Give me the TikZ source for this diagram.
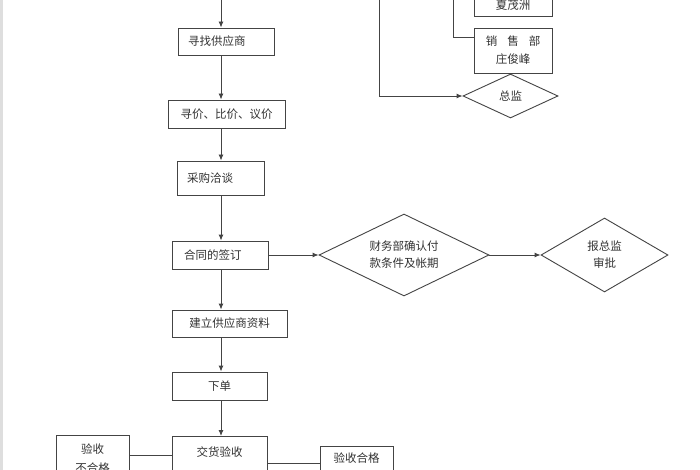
\documentclass[tikz,border=0pt]{standalone}
\usepackage{fontspec}
\newfontfamily\cjk{Noto Sans CJK SC}
\usetikzlibrary{shapes.geometric,arrows.meta}
\definecolor{lc}{HTML}{444444}
\definecolor{tx}{HTML}{333333}
\begin{document}
\begin{tikzpicture}[x=1pt,y=-1pt,
  every node/.style={font=\cjk\fontsize{11.5}{17}\selectfont, text=tx},
  box/.style={draw=lc, line width=0.9pt, rectangle, inner xsep=4pt, inner ysep=4pt},
  lbox/.style={box, text width=#1, align=left, inner xsep=10pt},
  dia/.style={draw=lc, line width=0.9pt, diamond, align=center, inner sep=0pt},
  arr/.style={draw=lc, line width=0.9pt, -{Latex[length=6pt,width=5pt]}},
  conn/.style={draw=lc, line width=0.9pt}]
\useasboundingbox (0,0) rectangle (700,470);
\clip (0,0) rectangle (700,470);
\fill[white] (0,0) rectangle (700,470);
\fill[black!13] (0,0) rectangle (3,470);

% main column
\node[lbox=76pt, minimum height=27pt] (n1) at (226,41.5) {寻找供应商};
\node[box, minimum width=117pt, minimum height=28pt] (n2) at (226.5,114) {寻价、比价、议价};
\node[lbox=67pt, minimum height=34pt] (n3) at (220.5,178) {采购洽谈};
\node[lbox=72pt, inner xsep=12pt, minimum height=28pt] (n4) at (220,255) {合同的签订};
\node[box, minimum width=115pt, minimum height=27pt] (n5) at (229.5,323.5) {建立供应商资料};
\node[box, minimum width=95pt, minimum height=28pt] (n6) at (219.5,386) {下单};
\node[box, minimum width=95pt, text height=15pt, text depth=30pt, inner ysep=5pt, anchor=north] (n7) at (219.5,436) {交货验收};
\node[box, minimum width=73pt, minimum height=46pt, align=center, font=\cjk\fontsize{11.5}{19}\selectfont, anchor=north] (n8) at (92.5,435) {验收\\不合格};
\node[box, minimum width=73pt, text height=12pt, text depth=20pt, inner ysep=4pt, anchor=north] (n9) at (356.5,446) {验收合格};

% diamonds
\node[dia, aspect=2.07, minimum width=170pt, minimum height=82pt] (d1) at (404,255) {财务部确认付\\款条件及帐期};
\node[dia, aspect=1.7, minimum width=127pt, minimum height=74pt] (d2) at (604.5,255) {报总监\\审批};

% top right
\node[box, minimum width=78pt, text height=30pt, text depth=3pt, inner ysep=4pt, anchor=south] (xm) at (513,17) {夏茂洲};
\node[box, minimum width=78pt, minimum height=45pt, align=center, font=\cjk\fontsize{11.5}{18}\selectfont] (xs) at (513,50.5) {销\hspace{10pt}售\hspace{10pt}部\\庄俊峰};
\node[dia, aspect=2.16, minimum width=95pt, minimum height=44pt] (zj) at (510.5,96) {总监};

% coordinates
\coordinate (col) at (221,0);
\coordinate (t0) at (221,0);
\coordinate (t1) at (453,0);
\coordinate (t2) at (379,0);
\coordinate (y37) at (0,37);
\coordinate (y455) at (0,455);
\coordinate (y463) at (0,463);

% connectors
\draw[arr] (t0) -- (t0 |- n1.north);
\draw[arr] (n1.south -| col) -- (n2.north -| col);
\draw[arr] (n2.south -| col) -- (n3.north -| col);
\draw[arr] (n3.south -| col) -- (n4.north -| col);
\draw[arr] (n4.south -| col) -- (n5.north -| col);
\draw[arr] (n5.south -| col) -- (n6.north -| col);
\draw[arr] (n6.south -| col) -- (n7.north -| col);
\draw[arr] (n4.east) -- (d1.west);
\draw[arr] (d1.east) -- (d2.west);
\draw[conn] (n7.west |- y455) -- (n8.east |- y455);
\draw[conn] (n7.east |- y463) -- (n9.west |- y463);
\draw[conn] (t1) |- (xs.west |- y37);
\draw[arr] (t2) |- (zj.west);
\end{tikzpicture}
\end{document}
